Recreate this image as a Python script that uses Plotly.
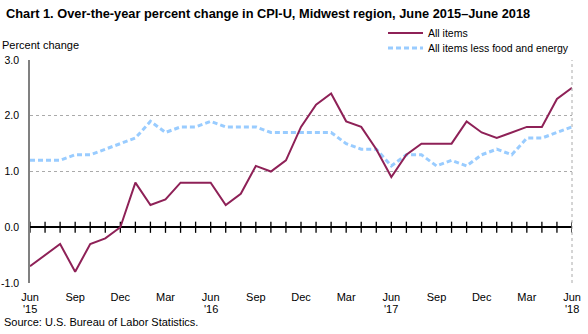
import plotly.graph_objects as go

months = ["Jun", "Jul", "Aug", "Sep", "Oct", "Nov", "Dec", "Jan", "Feb", "Mar", "Apr", "May"] * 3 + ["Jun"]
years = ["'15"] * 7 + ["'16"] * 12 + ["'17"] * 12 + ["'18"] * 6
all_items = [-0.7, -0.5, -0.3, -0.8, -0.3, -0.2, 0.0, 0.8, 0.4, 0.5, 0.8, 0.8,
             0.8, 0.4, 0.6, 1.1, 1.0, 1.2, 1.8, 2.2, 2.4, 1.9, 1.8, 1.4,
             0.9, 1.3, 1.5, 1.5, 1.5, 1.9, 1.7, 1.6, 1.7, 1.8, 1.8, 2.3, 2.5]
core = [1.2, 1.2, 1.2, 1.3, 1.3, 1.4, 1.5, 1.6, 1.9, 1.7, 1.8, 1.8,
        1.9, 1.8, 1.8, 1.8, 1.7, 1.7, 1.7, 1.7, 1.7, 1.5, 1.4, 1.4,
        1.1, 1.3, 1.3, 1.1, 1.2, 1.1, 1.3, 1.4, 1.3, 1.6, 1.6, 1.7, 1.8]
y_ticks = [-1, 0, 1, 2, 3]
series_names = ["All items", "All items less food and energy"]

x = list(range(len(months)))
tickvals = [i for i in x if months[i] in ("Jun", "Sep", "Dec", "Mar")]
ticktext = [months[i] for i in tickvals]
year_pos = [i for i in tickvals if months[i] == "Jun"]

FONT = "Arial, Liberation Sans, sans-serif"
C_ALL = "#8E2157"
C_CORE = "#99CCFF"
CORE_DASH = "5px,3px"
CLEAR = "rgba(0,0,0,0)"

fig = go.Figure()
fig.add_trace(go.Scatter(x=x, y=[0] * len(x), mode="markers", showlegend=False, hoverinfo="skip",
                         marker=dict(symbol="line-ns", size=8, line=dict(width=1.3, color="black"), color="black")))
fig.add_trace(go.Scatter(x=x, y=core, mode="lines", name=series_names[1], showlegend=False,
                         line=dict(color=C_CORE, width=3, dash=CORE_DASH)))
fig.add_trace(go.Scatter(x=x, y=all_items, mode="lines", name=series_names[0], showlegend=False,
                         line=dict(color=C_ALL, width=2)))

fig.update_layout(
    width=588, height=334,
    margin=dict(l=30, r=16, t=60, b=51, autoexpand=False),
    paper_bgcolor="white", plot_bgcolor="white",
    font=dict(family=FONT, size=11, color="black"),
    showlegend=False,
    xaxis=dict(range=[0, 36], tickvals=tickvals, ticktext=ticktext, showgrid=False, zeroline=False,
               showline=False, ticks="outside", ticklen=4, tickcolor=CLEAR, tickfont=dict(size=11),
               automargin=False),
    yaxis=dict(range=[-1, 3], tickvals=y_ticks, ticktext=[f"{v:.1f}" for v in y_ticks],
               showgrid=True, gridcolor="#aaaaaa",
               griddash="dot", gridwidth=1, zeroline=True, zerolinecolor="black", zerolinewidth=1.5,
               showline=True, linecolor="#808080", linewidth=1.5, ticks="outside", ticklen=7,
               tickcolor=CLEAR, tickfont=dict(size=10.5), automargin=False),
    shapes=[
        dict(type="line", xref="x domain", yref="y domain", x0=1, x1=1, y0=0, y1=1,
             line=dict(color="#aaaaaa", width=1, dash="dot")),
    ],
)

def px_x(p):
    return (p - 30) / 542

def px_y(p):
    return (334 - 51 - p) / 223

for i in year_pos:
    fig.add_annotation(xref="x", yref="paper", x=i, y=px_y(309), text=years[i], showarrow=False,
                       xanchor="center", yanchor="middle", font=dict(size=11))

# legend drawn manually
fig.add_shape(type="line", xref="paper", yref="paper", x0=px_x(388), x1=px_x(423), y0=px_y(33), y1=px_y(33),
              line=dict(color=C_ALL, width=2))
fig.add_shape(type="line", xref="paper", yref="paper", x0=px_x(388), x1=px_x(423), y0=px_y(48), y1=px_y(48),
              line=dict(color=C_CORE, width=3, dash=CORE_DASH))
fig.add_annotation(xref="paper", yref="paper", x=px_x(426), y=px_y(33), text=series_names[0], showarrow=False,
                   xanchor="left", yanchor="middle", font=dict(size=10.5))
fig.add_annotation(xref="paper", yref="paper", x=px_x(426), y=px_y(48), text=series_names[1], showarrow=False,
                   xanchor="left", yanchor="middle", font=dict(size=10.5))

fig.add_annotation(xref="paper", yref="paper", x=px_x(4), y=px_y(13),
                   text="<b>Chart 1. Over-the-year percent change in CPI-U, Midwest region, June 2015\u2013June 2018</b>",
                   showarrow=False, xanchor="left", yanchor="middle", font=dict(size=12.8))
fig.add_annotation(xref="paper", yref="paper", x=px_x(0), y=px_y(45), text="Percent change",
                   showarrow=False, xanchor="left", yanchor="middle", font=dict(size=11))
fig.add_annotation(xref="paper", yref="paper", x=px_x(2), y=px_y(322), text="Source: U.S. Bureau of Labor Statistics.",
                   showarrow=False, xanchor="left", yanchor="middle", font=dict(size=11))

fig.write_html("out.html")
